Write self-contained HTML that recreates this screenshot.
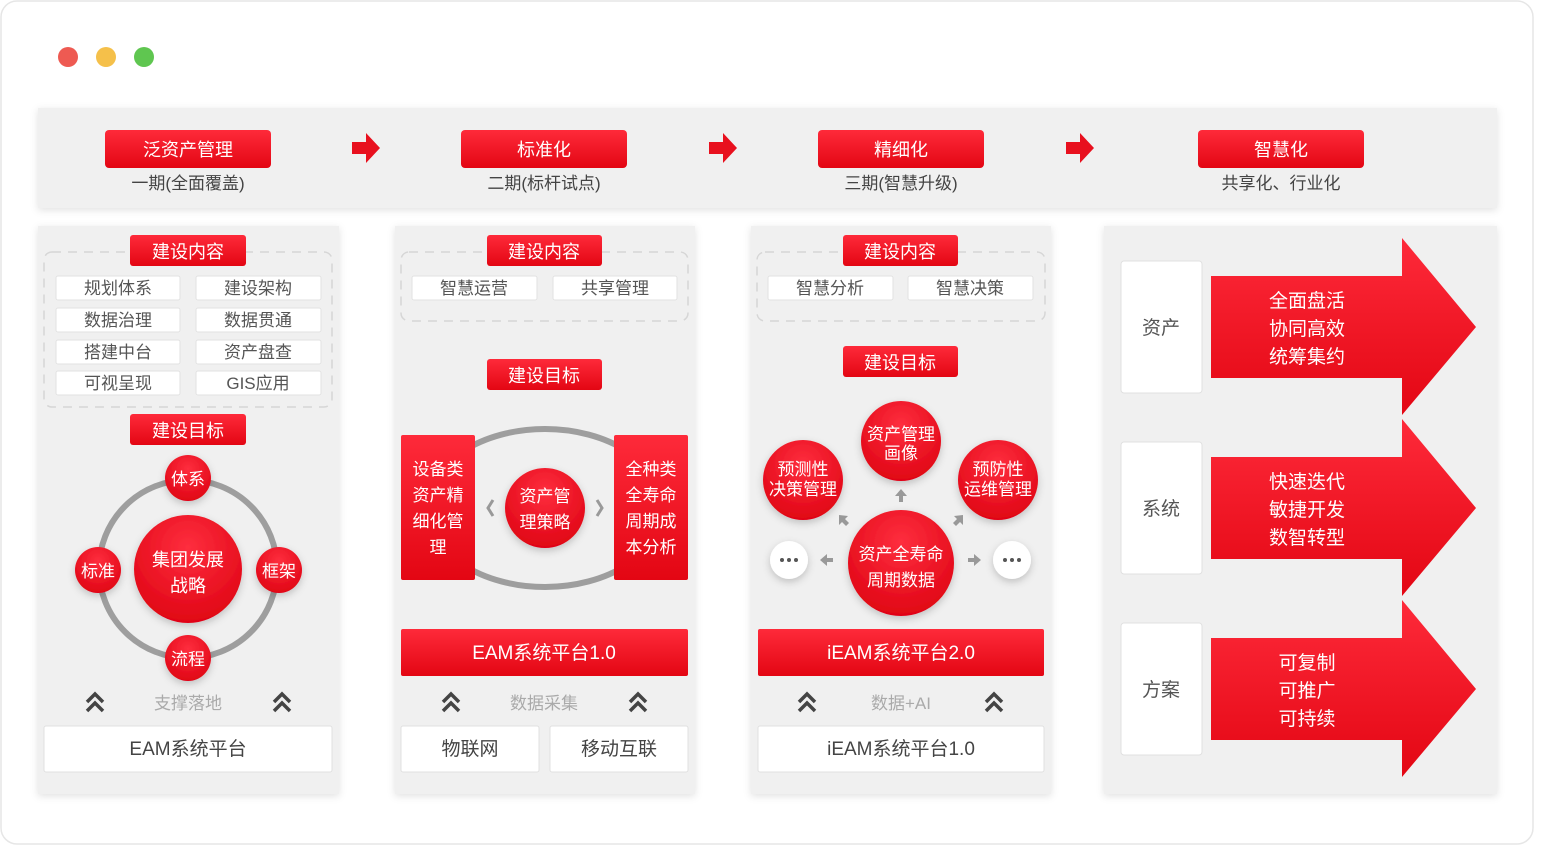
<!DOCTYPE html>
<html><head><meta charset="utf-8"><style>
html,body{margin:0;padding:0;background:#fff;}
svg{display:block;}
text{font-family:"Liberation Sans","Noto Sans CJK SC",sans-serif;}
</style></head><body>
<svg width="1542" height="846" viewBox="0 0 1542 846" xmlns="http://www.w3.org/2000/svg">
<defs>
<linearGradient id="rg" x1="0" y1="0" x2="0" y2="1"><stop offset="0" stop-color="#fe2a3a"/><stop offset="1" stop-color="#e30613"/></linearGradient>
<radialGradient id="cg" cx="0.5" cy="0.3" r="0.7"><stop offset="0" stop-color="#fe2e3e"/><stop offset="1" stop-color="#e00515"/></radialGradient>
<filter id="sh" x="-20%" y="-20%" width="140%" height="140%"><feDropShadow dx="0" dy="2" stdDeviation="4" flood-color="#000" flood-opacity="0.12"/></filter>
<filter id="sh2" x="-30%" y="-30%" width="160%" height="160%"><feDropShadow dx="0" dy="3" stdDeviation="4" flood-color="#000" flood-opacity="0.2"/></filter>
</defs>
<rect x="1" y="1" width="1532" height="843" rx="16" fill="#fff" stroke="#e6e6e6" stroke-width="1.5"/>
<circle cx="68" cy="57" r="10" fill="#ee5a52"/><circle cx="106" cy="57" r="10" fill="#f5c04a"/><circle cx="144" cy="57" r="10" fill="#5fc650"/>

<rect x="38" y="108" width="1459" height="100" fill="#f0f0f0" filter="url(#sh)"/>
<g font-size="18" text-anchor="middle">
<rect x="105" y="130" width="166" height="38" rx="4" fill="url(#rg)"/><text x="188" y="156" fill="#fff">泛资产管理</text>
<text x="188" y="189" fill="#444" font-size="17">一期(全面覆盖)</text>
<rect x="461" y="130" width="166" height="38" rx="4" fill="url(#rg)"/><text x="544" y="156" fill="#fff">标准化</text>
<text x="544" y="189" fill="#444" font-size="17">二期(标杆试点)</text>
<rect x="818" y="130" width="166" height="38" rx="4" fill="url(#rg)"/><text x="901" y="156" fill="#fff">精细化</text>
<text x="901" y="189" fill="#444" font-size="17">三期(智慧升级)</text>
<rect x="1198" y="130" width="166" height="38" rx="4" fill="url(#rg)"/><text x="1281" y="156" fill="#fff">智慧化</text>
<text x="1281" y="189" fill="#444" font-size="17">共享化、行业化</text>
</g>
<g fill="#e8101e">
<path d="M352 142h14v-9l14 15-14 15v-9h-14z"/>
<path d="M709 142h14v-9l14 15-14 15v-9h-14z"/>
<path d="M1066 142h14v-9l14 15-14 15v-9h-14z"/>
</g>

<rect x="38" y="226" width="301" height="568" fill="#f0f0f0" filter="url(#sh)"/>
<rect x="395" y="226" width="300" height="568" fill="#f0f0f0" filter="url(#sh)"/>
<rect x="751" y="226" width="300" height="568" fill="#f0f0f0" filter="url(#sh)"/>
<rect x="1104" y="226" width="393" height="568" fill="#f0f0f0" filter="url(#sh)"/>

<g font-size="17" text-anchor="middle">
<rect x="44" y="252" width="288" height="155" rx="8" fill="none" stroke="#d6d6d6" stroke-width="1.5" stroke-dasharray="9 7"/>
<rect x="130" y="235" width="116" height="31" rx="3" fill="url(#rg)"/><text x="188" y="258" fill="#fff" font-size="18">建设内容</text>
<g fill="#fff" stroke="#e2e2e2">
<rect x="56" y="276" width="124" height="24" rx="2"/><rect x="196" y="276" width="125" height="24" rx="2"/>
<rect x="56" y="308" width="124" height="24" rx="2"/><rect x="196" y="308" width="125" height="24" rx="2"/>
<rect x="56" y="340" width="124" height="24" rx="2"/><rect x="196" y="340" width="125" height="24" rx="2"/>
<rect x="56" y="371" width="124" height="24" rx="2"/><rect x="196" y="371" width="125" height="24" rx="2"/>
</g>
<g fill="#555">
<text x="118" y="294">规划体系</text><text x="258" y="294">建设架构</text>
<text x="118" y="326">数据治理</text><text x="258" y="326">数据贯通</text>
<text x="118" y="358">搭建中台</text><text x="258" y="358">资产盘查</text>
<text x="118" y="389">可视呈现</text><text x="258" y="389">GIS应用</text>
</g>
<rect x="130" y="414" width="116" height="31" rx="3" fill="url(#rg)"/><text x="188" y="437" fill="#fff" font-size="18">建设目标</text>
<circle cx="188" cy="569" r="89" fill="none" stroke="#9e9e9e" stroke-width="6"/>
<circle cx="188" cy="569" r="54" fill="url(#cg)" filter="url(#sh2)"/>
<text x="188" y="566" fill="#fff" font-size="18">集团发展</text><text x="188" y="592" fill="#fff" font-size="18">战略</text>
<circle cx="188" cy="478" r="23" fill="url(#cg)" filter="url(#sh2)"/><text x="188" y="485" fill="#fff">体系</text>
<circle cx="98" cy="570" r="23" fill="url(#cg)" filter="url(#sh2)"/><text x="98" y="577" fill="#fff">标准</text>
<circle cx="279" cy="570" r="23" fill="url(#cg)" filter="url(#sh2)"/><text x="279" y="577" fill="#fff">框架</text>
<circle cx="188" cy="658" r="23" fill="url(#cg)" filter="url(#sh2)"/><text x="188" y="665" fill="#fff">流程</text>
<text x="188" y="709" fill="#aaa">支撑落地</text>
<rect x="44" y="726" width="288" height="46" rx="2" fill="#fff" stroke="#e0e0e0"/><text x="188" y="755" fill="#444" font-size="19">EAM系统平台</text>

<rect x="401" y="252" width="287" height="69" rx="8" fill="none" stroke="#d6d6d6" stroke-width="1.5" stroke-dasharray="9 7"/>
<rect x="487" y="235" width="115" height="31" rx="3" fill="url(#rg)"/><text x="544" y="258" fill="#fff" font-size="18">建设内容</text>
<rect x="412" y="276" width="125" height="24" rx="2" fill="#fff" stroke="#e2e2e2"/><rect x="553" y="276" width="124" height="24" rx="2" fill="#fff" stroke="#e2e2e2"/>
<text x="474" y="294" fill="#555">智慧运营</text><text x="615" y="294" fill="#555">共享管理</text>
<rect x="487" y="359" width="115" height="31" rx="3" fill="url(#rg)"/><text x="544" y="382" fill="#fff" font-size="18">建设目标</text>
<ellipse cx="545" cy="508" rx="118" ry="79" fill="none" stroke="#9e9e9e" stroke-width="6"/>
<rect x="401" y="435" width="74" height="145" rx="2" fill="url(#rg)"/>
<rect x="614" y="435" width="74" height="145" rx="2" fill="url(#rg)"/>
<g fill="#fff"><text x="438" y="475">设备类</text><text x="438" y="501">资产精</text><text x="438" y="527">细化管</text><text x="438" y="553">理</text>
<text x="651" y="475">全种类</text><text x="651" y="501">全寿命</text><text x="651" y="527">周期成</text><text x="651" y="553">本分析</text></g>
<circle cx="545" cy="508" r="40" fill="url(#cg)" filter="url(#sh2)"/>
<text x="545" y="502" fill="#fff">资产管</text><text x="545" y="528" fill="#fff">理策略</text>
<path d="M493 500l-5 8 5 8M597 500l5 8-5 8" fill="none" stroke="#999" stroke-width="3"/>
<rect x="401" y="629" width="287" height="47" rx="2" fill="url(#rg)"/><text x="544" y="659" fill="#fff" font-size="19">EAM系统平台1.0</text>
<text x="544" y="709" fill="#aaa">数据采集</text>
<rect x="401" y="726" width="138" height="46" rx="2" fill="#fff" stroke="#e0e0e0"/><text x="470" y="755" fill="#444" font-size="19">物联网</text>
<rect x="550" y="726" width="138" height="46" rx="2" fill="#fff" stroke="#e0e0e0"/><text x="619" y="755" fill="#444" font-size="19">移动互联</text>

<rect x="757" y="252" width="288" height="69" rx="8" fill="none" stroke="#d6d6d6" stroke-width="1.5" stroke-dasharray="9 7"/>
<rect x="843" y="235" width="115" height="31" rx="3" fill="url(#rg)"/><text x="900" y="258" fill="#fff" font-size="18">建设内容</text>
<rect x="768" y="276" width="125" height="24" rx="2" fill="#fff" stroke="#e2e2e2"/><rect x="908" y="276" width="125" height="24" rx="2" fill="#fff" stroke="#e2e2e2"/>
<text x="830" y="294" fill="#555">智慧分析</text><text x="970" y="294" fill="#555">智慧决策</text>
<rect x="843" y="346" width="115" height="31" rx="3" fill="url(#rg)"/><text x="900" y="369" fill="#fff" font-size="18">建设目标</text>
<circle cx="901" cy="441" r="40" fill="url(#cg)" filter="url(#sh2)"/><text x="901" y="440" fill="#fff">资产管理</text><text x="901" y="459" fill="#fff">画像</text>
<circle cx="803" cy="480" r="40" fill="url(#cg)" filter="url(#sh2)"/><text x="803" y="475" fill="#fff">预测性</text><text x="803" y="495" fill="#fff">决策管理</text>
<circle cx="998" cy="480" r="40" fill="url(#cg)" filter="url(#sh2)"/><text x="998" y="475" fill="#fff">预防性</text><text x="998" y="495" fill="#fff">运维管理</text>
<circle cx="901" cy="563" r="53" fill="url(#cg)" filter="url(#sh2)"/><text x="901" y="560" fill="#fff">资产全寿命</text><text x="901" y="586" fill="#fff">周期数据</text>
<circle cx="789" cy="560" r="19" fill="#fff" filter="url(#sh2)"/>
<circle cx="1012" cy="560" r="19" fill="#fff" filter="url(#sh2)"/>
<g fill="#555"><circle cx="782" cy="560" r="2"/><circle cx="789" cy="560" r="2"/><circle cx="796" cy="560" r="2"/>
<circle cx="1005" cy="560" r="2"/><circle cx="1012" cy="560" r="2"/><circle cx="1019" cy="560" r="2"/></g>
<g fill="#999">
<path d="M901 489l6 7h-4v6h-4v-6h-4z"/>
<path d="M820 560l7-6v4h6v4h-6v4z"/>
<path d="M981 560l-7-6v4h-6v4h6v4z"/>
<path d="M839 515l9 1-3 3 4 4-3 3-4-4-3 3z"/>
<path d="M963 515l-9 1 3 3-4 4 3 3 4-4 3 3z"/>
</g>
<rect x="758" y="629" width="286" height="47" rx="2" fill="url(#rg)"/><text x="901" y="659" fill="#fff" font-size="19">iEAM系统平台2.0</text>
<text x="901" y="709" fill="#aaa">数据+AI</text>
<rect x="758" y="726" width="286" height="46" rx="2" fill="#fff" stroke="#e0e0e0"/><text x="901" y="755" fill="#444" font-size="19">iEAM系统平台1.0</text>
</g>

<g fill="none" stroke="#444" stroke-width="3.5">
<path d="M87 702l8-8 8 8M87 711l8-8 8 8"/>
<path d="M274 702l8-8 8 8M274 711l8-8 8 8"/>
<path d="M443 702l8-8 8 8M443 711l8-8 8 8"/>
<path d="M630 702l8-8 8 8M630 711l8-8 8 8"/>
<path d="M799 702l8-8 8 8M799 711l8-8 8 8"/>
<path d="M986 702l8-8 8 8M986 711l8-8 8 8"/>
</g>

<g font-size="19" text-anchor="middle">
<rect x="1121" y="261" width="81" height="132" rx="3" fill="#fff" stroke="#e0e0e0"/><text x="1161" y="334" fill="#555">资产</text>
<rect x="1121" y="442" width="81" height="132" rx="3" fill="#fff" stroke="#e0e0e0"/><text x="1161" y="515" fill="#555">系统</text>
<rect x="1121" y="623" width="81" height="132" rx="3" fill="#fff" stroke="#e0e0e0"/><text x="1161" y="696" fill="#555">方案</text>
<path d="M1211 276h191v-38l74 89-74 88v-37h-191z" fill="url(#rg)"/>
<path d="M1211 457h191v-38l74 89-74 88v-37h-191z" fill="url(#rg)"/>
<path d="M1211 638h191v-38l74 89-74 88v-37h-191z" fill="url(#rg)"/>
<g fill="#fff">
<text x="1307" y="307">全面盘活</text><text x="1307" y="335">协同高效</text><text x="1307" y="363">统筹集约</text>
<text x="1307" y="488">快速迭代</text><text x="1307" y="516">敏捷开发</text><text x="1307" y="544">数智转型</text>
<text x="1307" y="669">可复制</text><text x="1307" y="697">可推广</text><text x="1307" y="725">可持续</text>
</g>
</g>
</svg>
</body></html>
